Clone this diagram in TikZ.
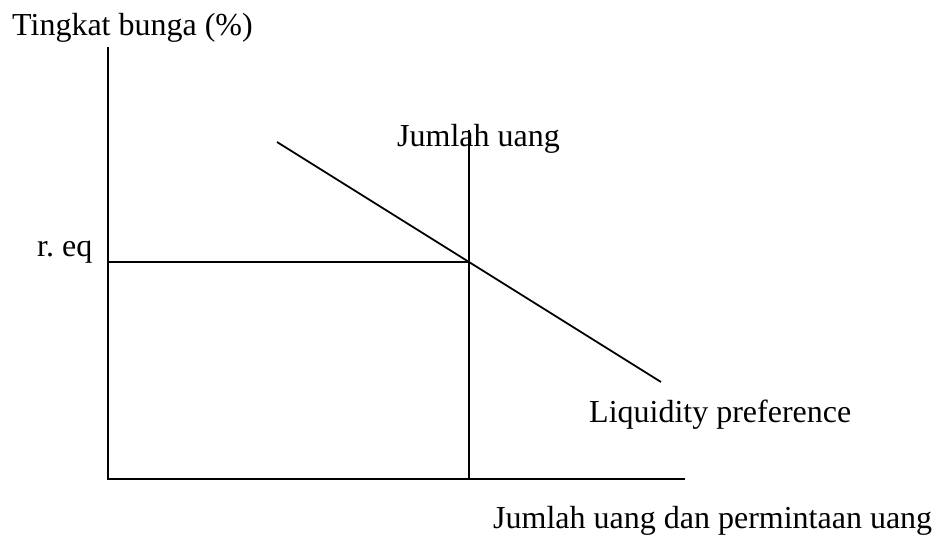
\documentclass[tikz,border=0pt]{standalone}
\usepackage{fontspec}
\setmainfont{Liberation Serif}
\usetikzlibrary{positioning}

\begin{document}
\begin{tikzpicture}[x=1pt, y=-1pt,
    lbl/.style={inner sep=0pt, anchor=base west, font=\fontsize{32}{38}\selectfont},
    axisline/.style={line width=2.2pt},
    curveline/.style={line width=1.8pt}]
  \useasboundingbox (0,0) rectangle (935,538);
  % axes
  \coordinate (origin) at (108,479);
  \coordinate (ytop) at (108,47);
  \coordinate (xend) at (685,479);
  \draw[axisline] (ytop) -- (origin) -- (xend);
  % money supply and equilibrium rate
  \coordinate (mtop) at (469,130);
  \coordinate (mbot) at (469,479);
  \coordinate (eqleft) at (108,262);
  \coordinate (eqpt) at (469,262);
  \draw[axisline] (mtop) -- (mbot);
  \draw[axisline] (eqleft) -- (eqpt);
  % liquidity preference
  \coordinate (lpstart) at (277,142);
  \coordinate (lpend) at (661,382);
  \draw[curveline] (lpstart) -- (eqpt) -- (lpend);
  % labels
  \node[lbl] (ylabel) at (12,35) {Tingkat bunga (\%)};
  \node[lbl] (mlabel) at (397,146) {Jumlah uang};
  \node[lbl] (eqlabel) at (37,256) {r.\ eq};
  \node[lbl] (lplabel) at (589,422) {Liquidity preference};
  \node[lbl] (xlabel) at (493,528) {Jumlah uang dan permintaan uang};
\end{tikzpicture}
\end{document}
